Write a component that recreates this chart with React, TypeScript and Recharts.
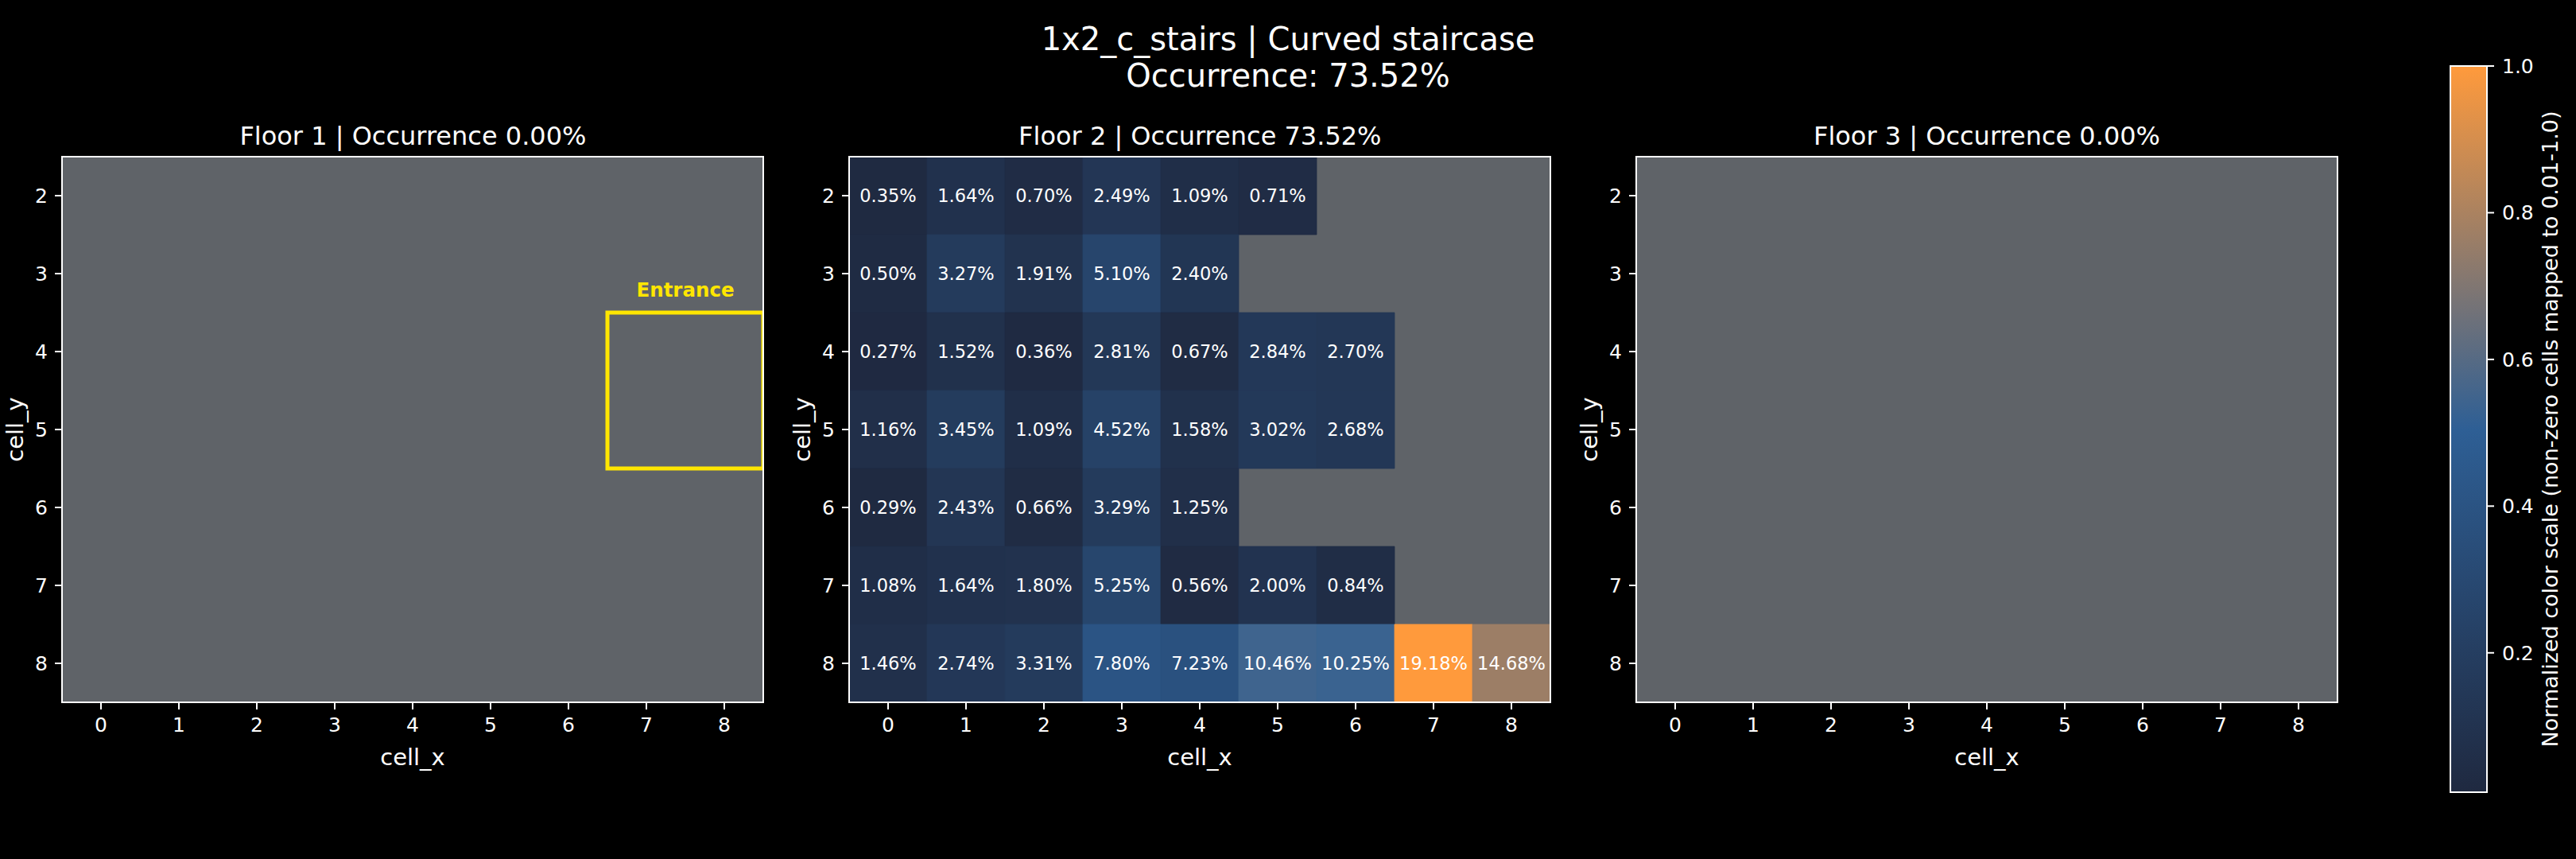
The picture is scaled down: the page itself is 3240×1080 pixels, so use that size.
import React from 'react';
import { ComposedChart, Scatter, XAxis, YAxis, ReferenceArea, Label } from 'recharts';

const FONT = '"DejaVu Sans", "Liberation Sans", sans-serif';

// ---------- data ----------
const LAYOUT_ID = '1x2_c_stairs';
const LAYOUT_NAME = 'Curved staircase';
const TOTAL_OCCURRENCE = 73.52;

const CELL_X = [0, 1, 2, 3, 4, 5, 6, 7, 8];
const CELL_Y = [2, 3, 4, 5, 6, 7, 8];

const FLOOR_NAMES = ['Floor 1', 'Floor 2', 'Floor 3'];
const FLOOR_OCCURRENCE = [0.0, 73.52, 0.0];

// Floor 2 occurrence (%) per cell; rows are cell_y = 2..8, columns cell_x = 0..8 (null = no value)
const F2_Y2 = [0.35, 1.64, 0.70, 2.49, 1.09, 0.71, null, null, null];
const F2_Y3 = [0.50, 3.27, 1.91, 5.10, 2.40, null, null, null, null];
const F2_Y4 = [0.27, 1.52, 0.36, 2.81, 0.67, 2.84, 2.70, null, null];
const F2_Y5 = [1.16, 3.45, 1.09, 4.52, 1.58, 3.02, 2.68, null, null];
const F2_Y6 = [0.29, 2.43, 0.66, 3.29, 1.25, null, null, null, null];
const F2_Y7 = [1.08, 1.64, 1.80, 5.25, 0.56, 2.00, 0.84, null, null];
const F2_Y8 = [1.46, 2.74, 3.31, 7.80, 7.23, 10.46, 10.25, 19.18, 14.68];
const FLOOR2_ROWS = [F2_Y2, F2_Y3, F2_Y4, F2_Y5, F2_Y6, F2_Y7, F2_Y8];
const EMPTY_ROWS: (number | null)[][] = [];
const FLOOR_ROWS = [EMPTY_ROWS, FLOOR2_ROWS, EMPTY_ROWS];

// Entrance marker (floor index, cell range)
const ENTRANCE_FLOOR = 0;
const ENTRANCE_X = [7, 8];
const ENTRANCE_Y = [4, 5];

const COLORBAR_TICKS = [0.2, 0.4, 0.6, 0.8, 1.0];
const COLORBAR_DOMAIN = [0.01, 1.0];

// ---------- styling ----------
const BG = '#000000';
const EMPTY_FILL = '#5f6368';
const CMAP_STOPS: [number, string][] = [
  [0, '#1f2940'],
  [0.5, '#2e5f95'],
  [1, '#ff9a3c'],
];
const ENTRANCE_COLOR = '#ffe600';

const PANEL_LEFT = [78.4, 1068.3, 2058];
const PLOT_W = 882;
const PLOT_H = 686;
const PLOT_TOP = 197;
const CHART_TOP = 140;
const Y_AXIS_W = 70;
const M_LEFT = 8;

function hexToRgb(h: string) {
  const n = parseInt(h.slice(1), 16);
  return [(n >> 16) & 255, (n >> 8) & 255, n & 255];
}
function cmap(t: number) {
  const tt = Math.max(0, Math.min(1, t));
  for (let i = 0; i < CMAP_STOPS.length - 1; i++) {
    const [p0, c0] = CMAP_STOPS[i];
    const [p1, c1] = CMAP_STOPS[i + 1];
    if (tt <= p1) {
      const f = (tt - p0) / (p1 - p0);
      const a = hexToRgb(c0);
      const b = hexToRgb(c1);
      const r = a.map((v, k) => Math.round(v + (b[k] - v) * f));
      return `rgb(${r[0]},${r[1]},${r[2]})`;
    }
  }
  return CMAP_STOPS[CMAP_STOPS.length - 1][1];
}

type Cell = { x: number; y: number; v: number };

function buildCells(rows: (number | null)[][]): Cell[] {
  const out: Cell[] = [];
  rows.forEach((row, ri) => {
    row.forEach((v, ci) => {
      if (v !== null && v !== undefined && v > 0) out.push({ x: CELL_X[ci], y: CELL_Y[ri], v });
    });
  });
  return out;
}

const ALL_VALUES = FLOOR_ROWS.flatMap((r) => buildCells(r).map((c) => c.v));
const MAX_VALUE = Math.max(...ALL_VALUES);

function cellColor(v: number) {
  const n = Math.max(COLORBAR_DOMAIN[0], v / MAX_VALUE);
  return cmap((n - COLORBAR_DOMAIN[0]) / (COLORBAR_DOMAIN[1] - COLORBAR_DOMAIN[0]));
}

const tickStyle = { fill: '#ffffff', fontSize: 25, fontFamily: FONT };
const tickLine = { stroke: '#ffffff', strokeWidth: 2 };

function XLabel(props: any) {
  const vb = props.viewBox || {};
  return (
    <text x={vb.x + vb.width / 2} y={vb.y + 79} textAnchor="middle" fill="#fff" fontSize={29} fontFamily={FONT}>
      cell_x
    </text>
  );
}
function YLabel(props: any) {
  const vb = props.viewBox || {};
  const x = vb.x + 21;
  const cy = vb.y + vb.height / 2;
  return (
    <text x={x} y={cy} transform={`rotate(-90, ${x}, ${cy})`} textAnchor="middle" fill="#fff" fontSize={29} fontFamily={FONT}>
      cell_y
    </text>
  );
}
function CbarLabel(props: any) {
  const vb = props.viewBox || {};
  const x = vb.x + 89;
  const cy = vb.y + vb.height / 2;
  return (
    <text x={x} y={cy} transform={`rotate(-90, ${x}, ${cy})`} textAnchor="middle" fill="#fff" fontSize={27} fontFamily={FONT}>
      Normalized color scale (non-zero cells mapped to 0.01-1.0)
    </text>
  );
}

function FloorPanel({ idx }: { idx: number }) {
  const cells = buildCells(FLOOR_ROWS[idx]);
  const left = PANEL_LEFT[idx] - (M_LEFT + Y_AXIS_W);
  const width = M_LEFT + Y_AXIS_W + PLOT_W + 20;
  const height = PLOT_TOP - CHART_TOP + PLOT_H + 110;
  return (
    <div style={{ position: 'absolute', left, top: CHART_TOP }}>
      <ComposedChart
        width={width}
        height={height}
        margin={{ top: PLOT_TOP - CHART_TOP, right: 20, left: M_LEFT, bottom: 50 }}
        data={cells}
      >
        <XAxis
          type="number"
          dataKey="x"
          domain={[-0.5, 8.5]}
          ticks={CELL_X}
          interval={0}
          allowDataOverflow
          axisLine={false}
          tickLine={tickLine}
          tickSize={9}
          tickMargin={10}
          tick={tickStyle}
          height={60}
        >
          <Label content={<XLabel />} />
        </XAxis>
        <YAxis
          type="number"
          dataKey="y"
          domain={[1.5, 8.5]}
          reversed
          ticks={CELL_Y}
          interval={0}
          allowDataOverflow
          axisLine={false}
          tickLine={tickLine}
          tickSize={9}
          tickMargin={9}
          tick={tickStyle}
          width={Y_AXIS_W}
        >
          <Label content={<YLabel />} />
        </YAxis>
        <ReferenceArea
          x1={-0.5}
          x2={8.5}
          y1={1.5}
          y2={8.5}
          fill={EMPTY_FILL}
          fillOpacity={1}
          stroke="none"
          ifOverflow="visible"
        />
        {cells.map((c) => {
          const col = cellColor(c.v);
          return (
            <ReferenceArea
              key={`${c.x}-${c.y}`}
              x1={c.x - 0.5}
              x2={c.x + 0.5}
              y1={c.y - 0.5}
              y2={c.y + 0.5}
              fill={col}
              fillOpacity={1}
              stroke={col}
              strokeWidth={0.8}
              ifOverflow="visible"
              label={{
                value: `${c.v.toFixed(2)}%`,
                position: 'center',
                fill: '#ffffff',
                fontSize: 22.5,
                fontFamily: FONT,
              }}
            />
          );
        })}
        {idx === ENTRANCE_FLOOR && (
          <ReferenceArea
            x1={ENTRANCE_X[0] - 0.5}
            x2={ENTRANCE_X[1] + 0.5}
            y1={ENTRANCE_Y[0] - 0.5}
            y2={ENTRANCE_Y[1] + 0.5}
            fill="none"
            fillOpacity={0}
            stroke={ENTRANCE_COLOR}
            strokeWidth={5}
            ifOverflow="hidden"
            label={{
              value: 'Entrance',
              position: 'top',
              offset: 20,
              fill: ENTRANCE_COLOR,
              fontSize: 24.5,
              fontWeight: 'bold',
              fontFamily: FONT,
            }}
          />
        )}
        <ReferenceArea
          x1={-0.5}
          x2={8.5}
          y1={1.5}
          y2={8.5}
          fill="none"
          fillOpacity={0}
          stroke="#ffffff"
          strokeWidth={2}
          ifOverflow="visible"
        />
        <Scatter dataKey="y" isAnimationActive={false} shape={() => <g />} />
      </ComposedChart>
    </div>
  );
}

function ColorBar() {
  const top = 60;
  const plotTop = 83;
  const plotBottom = 996;
  const plotLeft = 3082;
  const barW = 46;
  const mLeft = plotLeft - 3060;
  const cbData = COLORBAR_TICKS.map((t) => ({ x: 0.5, y: t }));
  return (
    <div style={{ position: 'absolute', left: 3060, top }}>
      <ComposedChart
        width={mLeft + barW + 60 + 100}
        height={plotBottom - top + 20}
        margin={{ top: plotTop - top, right: 100, left: mLeft, bottom: 20 }}
        data={cbData}
      >
        <XAxis type="number" dataKey="x" domain={[0, 1]} hide allowDataOverflow />
        <YAxis
          type="number"
          dataKey="y"
          orientation="right"
          domain={COLORBAR_DOMAIN}
          ticks={COLORBAR_TICKS}
          interval={0}
          allowDataOverflow
          axisLine={false}
          tickLine={tickLine}
          tickSize={9}
          tickMargin={10}
          tick={tickStyle}
          tickFormatter={(v: number) => v.toFixed(1)}
          width={60}
        >
          <Label content={<CbarLabel />} />
        </YAxis>
        <ReferenceArea
          x1={0}
          x2={1}
          y1={COLORBAR_DOMAIN[0]}
          y2={COLORBAR_DOMAIN[1]}
          fill="url(#cbarGradient)"
          fillOpacity={1}
          stroke="#ffffff"
          strokeWidth={2}
          ifOverflow="visible"
        />
        <Scatter dataKey="y" isAnimationActive={false} shape={() => <g />} />
      </ComposedChart>
    </div>
  );
}

export default function App() {
  return (
    <div
      style={{
        position: 'absolute',
        left: 0,
        top: 0,
        width: 3240,
        height: 1080,
        background: BG,
        overflow: 'hidden',
        fontFamily: FONT,
      }}
    >
      <svg width={0} height={0} style={{ position: 'absolute' }}>
        <defs>
          <linearGradient id="cbarGradient" x1="0" y1="1" x2="0" y2="0">
            {CMAP_STOPS.map(([p, c]) => (
              <stop key={p} offset={p} stopColor={c} />
            ))}
          </linearGradient>
        </defs>
      </svg>
      {FLOOR_NAMES.map((_, i) => (
        <FloorPanel key={i} idx={i} />
      ))}
      <ColorBar />
      <svg width={3240} height={1080} style={{ position: 'absolute', left: 0, top: 0, pointerEvents: 'none' }}>
        <text x={1620} y={63} textAnchor="middle" fill="#fff" fontSize={40} fontFamily={FONT}>
          {`${LAYOUT_ID} | ${LAYOUT_NAME}`}
        </text>
        <text x={1620} y={109} textAnchor="middle" fill="#fff" fontSize={40} fontFamily={FONT}>
          {`Occurrence: ${TOTAL_OCCURRENCE.toFixed(2)}%`}
        </text>
        {FLOOR_NAMES.map((name, i) => (
          <text
            key={name}
            x={PANEL_LEFT[i] + PLOT_W / 2}
            y={182}
            textAnchor="middle"
            fill="#fff"
            fontSize={32}
            fontFamily={FONT}
          >
            {`${name} | Occurrence ${FLOOR_OCCURRENCE[i].toFixed(2)}%`}
          </text>
        ))}
      </svg>
    </div>
  );
}
